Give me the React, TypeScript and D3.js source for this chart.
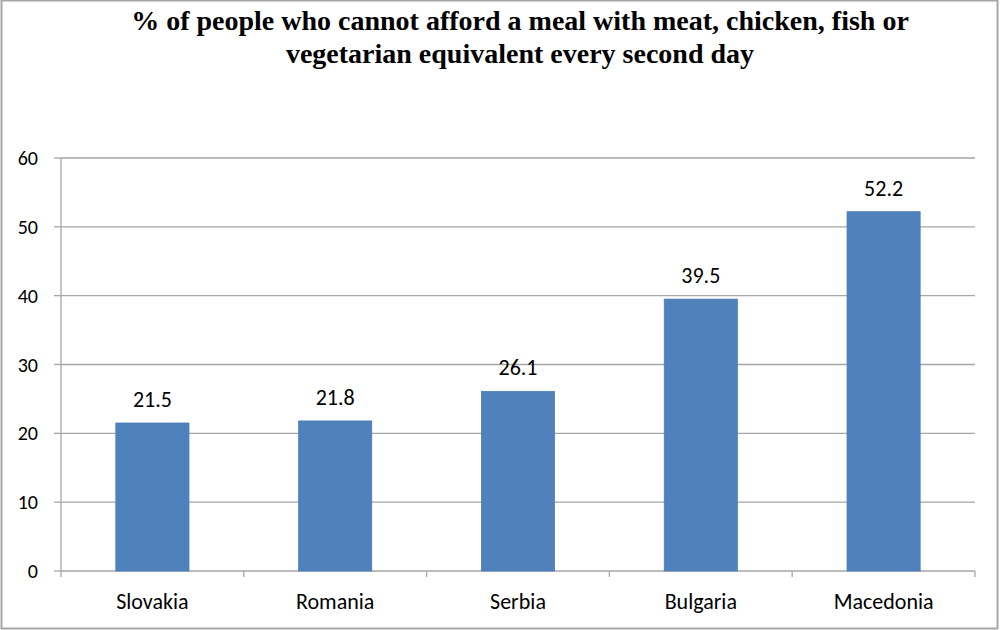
import React from "react";
import * as d3 from "d3";

const countries = ["Slovakia", "Romania", "Serbia", "Bulgaria", "Macedonia"];
const values = [21.5, 21.8, 26.1, 39.5, 52.2];
const yTicks = [0, 10, 20, 30, 40, 50, 60];
const titleLines = [
  "% of people who cannot afford a meal with meat, chicken, fish or",
  "vegetarian equivalent every second day",
];

export default function App() {
  const W = 1000, H = 630;
  const left = 61, right = 975, top = 158, bottom = 571;
  const x = d3.scaleBand<string>().domain(countries).range([left, right]).paddingInner(0.6).paddingOuter(0.3);
  const xb = d3.scaleBand<string>().domain(countries).range([left, right]);
  const y = d3.scaleLinear().domain([0, 60]).range([bottom, top]);
  const label = "'Carlito', 'Open Sans', 'Liberation Sans', sans-serif";
  return (
    <svg width={W} height={H} style={{ position: "absolute", left: 0, top: 0 }}>
      <rect x={1.5} y={0.5} width={996} height={628} fill="white" stroke="#a6a6a6" strokeWidth={2} />
      {titleLines.map((t, i) => (
        <text key={i} x={520} y={30 + i * 33} textAnchor="middle" fontFamily="'Liberation Serif', 'Times New Roman', serif" fontWeight="bold" fontSize={28} fill="#000">{t}</text>
      ))}
      {yTicks.map((t) => (
        <g key={t}>
          {t > 0 && <line x1={left} x2={right} y1={y(t)} y2={y(t)} stroke="#a6a6a6" strokeWidth={1.3} />}
          <line x1={54} x2={left} y1={y(t)} y2={y(t)} stroke="#a6a6a6" strokeWidth={1.3} />
          <text x={38} y={y(t)} dy="0.35em" textAnchor="end" fontFamily={label} fontSize={20} fill="#000">{t}</text>
        </g>
      ))}
      <line x1={left} x2={left} y1={top} y2={bottom} stroke="#a6a6a6" strokeWidth={1.3} />
      <line x1={left} x2={right} y1={bottom} y2={bottom} stroke="#a6a6a6" strokeWidth={1.3} />
      {countries.map((c) => (
        <line key={"tk" + c} x1={xb(c)!} x2={xb(c)!} y1={bottom} y2={bottom + 6} stroke="#a6a6a6" strokeWidth={1.3} />
      ))}
      <line x1={right} x2={right} y1={bottom} y2={bottom + 6} stroke="#a6a6a6" strokeWidth={1.3} />
      {countries.map((c, i) => (
        <g key={c}>
          <rect x={x(c)!} y={y(values[i])} width={x.bandwidth()} height={bottom - y(values[i])} fill="#4f81bd" stroke="#4a7ebb" strokeWidth={0.8} />
          <text x={x(c)! + x.bandwidth() / 2} y={y(values[i]) - 16} textAnchor="middle" fontFamily={label} fontSize={22} fill="#000">{values[i].toFixed(1)}</text>
          <text x={xb(c)! + xb.bandwidth() / 2} y={609} textAnchor="middle" fontFamily={label} fontSize={22} fill="#000">{c}</text>
        </g>
      ))}
    </svg>
  );
}
